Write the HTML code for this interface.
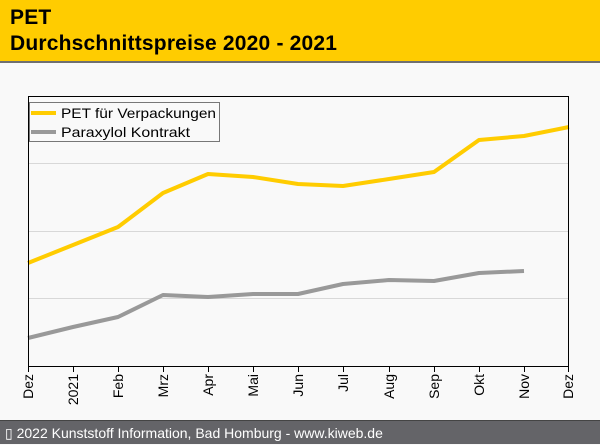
<!DOCTYPE html>
<html><head><meta charset="utf-8"><style>
body{margin:0;width:600px;height:444px;overflow:hidden;background:#f9f9f9;font-family:"Liberation Sans",sans-serif;position:relative}
#hd{position:absolute;left:0;top:0;width:600px;height:61px;background:#ffcc00;border-bottom:2px solid #707070}
#hd div{position:absolute;left:10px;font-weight:bold;font-size:21px;color:#000;letter-spacing:0.2px}
#ft{position:absolute;left:0;top:420px;width:600px;height:24px;background:#646468;color:#fff;font-size:14px;line-height:24px;padding-left:5px;box-sizing:border-box;border-top:1px solid #444}
</style></head><body>
<div id="hd"><div style="top:6px">PET</div><div style="top:32px">Durchschnittspreise 2020 - 2021</div></div>
<svg width="600" height="444" style="position:absolute;left:0;top:0" font-family="Liberation Sans, sans-serif">
<g stroke="#d8d8d8" stroke-width="1">
<line x1="28" x2="569" y1="163.5" y2="163.5"/><line x1="28" x2="569" y1="231.5" y2="231.5"/><line x1="28" x2="569" y1="298.5" y2="298.5"/>
</g>
<polyline fill="none" stroke="#ffcc00" stroke-width="4" stroke-linejoin="round" points="28,263 73,245 118,227 163,193 208,174 253,177 298,184 343,186 389,179 434,172 479,140 524,136 569,127"/>
<polyline fill="none" stroke="#999" stroke-width="4" stroke-linejoin="round" points="28,338 73,327 118,317 163,295 208,297 253,294 298,294 343,284 389,280 434,281 479,273 524,271"/>
<rect x="28.5" y="96.5" width="540" height="270" fill="none" stroke="#000" stroke-width="1"/>
<g stroke="#000"><line x1="28.5" x2="28.5" y1="366" y2="372"/><line x1="73.5" x2="73.5" y1="366" y2="372"/><line x1="118.5" x2="118.5" y1="366" y2="372"/><line x1="163.5" x2="163.5" y1="366" y2="372"/><line x1="208.5" x2="208.5" y1="366" y2="372"/><line x1="253.5" x2="253.5" y1="366" y2="372"/><line x1="298.5" x2="298.5" y1="366" y2="372"/><line x1="343.5" x2="343.5" y1="366" y2="372"/><line x1="389.5" x2="389.5" y1="366" y2="372"/><line x1="434.5" x2="434.5" y1="366" y2="372"/><line x1="479.5" x2="479.5" y1="366" y2="372"/><line x1="524.5" x2="524.5" y1="366" y2="372"/><line x1="568.5" x2="568.5" y1="366" y2="372"/></g>
<g font-size="14" fill="#000" text-anchor="end">
<text transform="translate(33,374) rotate(-90)">Dez</text>
<text transform="translate(78,374) rotate(-90)">2021</text>
<text transform="translate(123,374) rotate(-90)">Feb</text>
<text transform="translate(168,374) rotate(-90)">Mrz</text>
<text transform="translate(213,374) rotate(-90)">Apr</text>
<text transform="translate(258,374) rotate(-90)">Mai</text>
<text transform="translate(303,374) rotate(-90)">Jun</text>
<text transform="translate(348,374) rotate(-90)">Jul</text>
<text transform="translate(394,374) rotate(-90)">Aug</text>
<text transform="translate(439,374) rotate(-90)">Sep</text>
<text transform="translate(484,374) rotate(-90)">Okt</text>
<text transform="translate(529,374) rotate(-90)">Nov</text>
<text transform="translate(573,374) rotate(-90)">Dez</text>
</g>
<rect x="29.5" y="102.5" width="160" height="39" fill="#f9f9f9" stroke="#777" width="160"/>
<rect x="29.5" y="102.5" width="160" height="39" fill="#f9f9f9" stroke="none"/>
<rect x="29.5" y="102.5" width="160" height="39" fill="none" stroke="none"/>
<rect x="29.5" y="102.5" width="160" height="39" fill="none" stroke="none"/>
<rect x="29.5" y="102.5" width="160" height="39" fill="none" stroke="none"/>
<rect x="29.5" y="102.5" width="160" height="39" fill="none" stroke="none"/>
<rect x="29.5" y="102.5" width="160" height="39" fill="none" stroke="none"/>
<rect x="29.5" y="102.5" width="160" height="39" fill="none" stroke="none"/>
<rect x="29.5" y="102.5" width="160" height="39" fill="none" stroke="none"/>
<rect x="29.5" y="102.5" width="160" height="39" fill="none" stroke="none"/>
<rect x="29.5" y="102.5" width="160" height="39" fill="none" stroke="none"/>
<rect x="29.5" y="102.5" width="160" height="39" fill="none" stroke="none"/>
<rect x="29.5" y="102.5" width="160" height="39" fill="none" stroke="none"/>
<rect x="29.5" y="102.5" width="160" height="39" fill="none" stroke="none"/>
<rect x="29.5" y="102.5" width="160" height="39" fill="none" stroke="none"/>
<rect x="29.5" y="102.5" width="160" height="39" fill="none" stroke="none"/>
<rect x="29.5" y="102.5" width="160" height="39" fill="#f9f9f9" stroke="#fff" stroke-width="0"/>
<rect x="29.5" y="102.5" width="190" height="39" fill="#f9f9f9" stroke="#777"/>
<line x1="31" x2="56" y1="113" y2="113" stroke="#ffcc00" stroke-width="4"/>
<line x1="31" x2="56" y1="132" y2="132" stroke="#999" stroke-width="4"/>
<text x="61" y="118" font-size="14" fill="#000" textLength="155" lengthAdjust="spacingAndGlyphs">PET für Verpackungen</text>
<text x="61" y="137" font-size="14" fill="#000" textLength="129" lengthAdjust="spacingAndGlyphs">Paraxylol Kontrakt</text>
</svg>
<div id="ft">&#9647; 2022 Kunststoff Information, Bad Homburg - www.kiweb.de</div>
</body></html>
